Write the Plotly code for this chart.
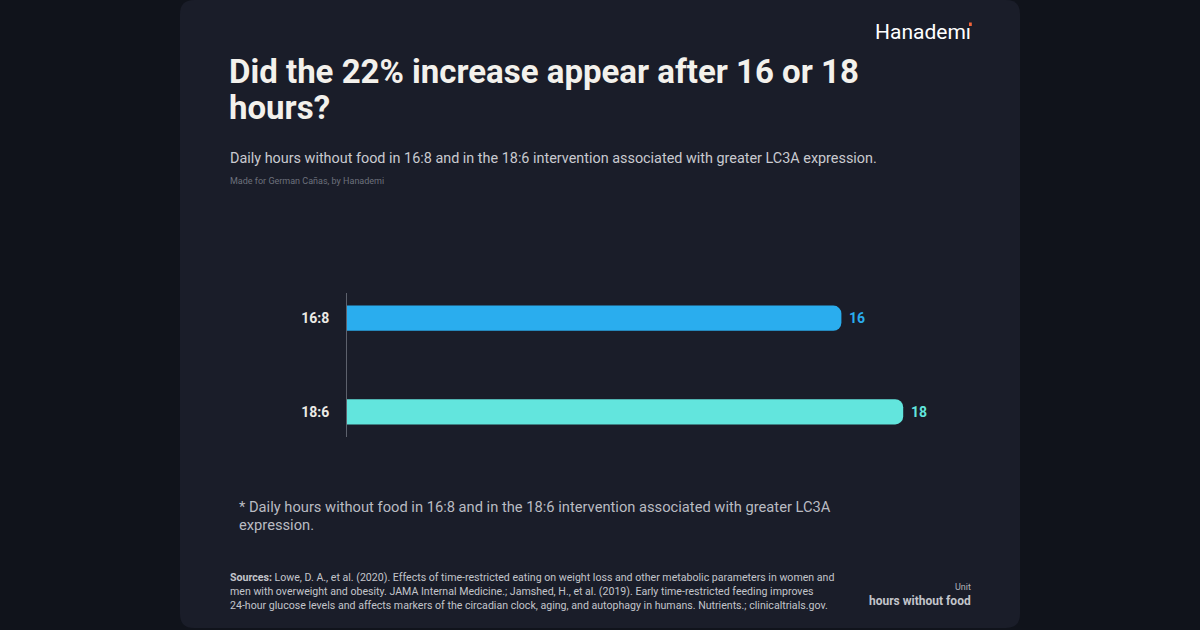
import plotly.graph_objects as go

# ---- data ----
categories = ["16:8", "18:6"]
hours = [16, 18]
bar_colors = ["#2aadee", "#62e5dd"]

title_lines = ["Did the 22% increase appear after 16 or 18", "hours?"]
subtitle_text = "Daily hours without food in 16:8 and in the 18:6 intervention associated with greater LC3A expression."
credit_text = "Made for German Cañas, by Hanademi"
note_lines = ["* Daily hours without food in 16:8 and in the 18:6 intervention associated with greater LC3A",
              "expression."]
sources_text = ("<b>Sources:</b> Lowe, D. A., et al. (2020). Effects of time-restricted eating on weight loss and other metabolic parameters in women and<br>"
                "men with overweight and obesity. JAMA Internal Medicine.; Jamshed, H., et al. (2019). Early time-restricted feeding improves<br>"
                "24-hour glucose levels and affects markers of the circadian clock, aging, and autophagy in humans. Nutrients.; clinicaltrials.gov.")
unit_label = "Unit"
unit_text = "hours without food"

# ---- layout geometry (pixels) ----
W, H = 1200, 630
L, R, T, B = 347, 965, 293, 437

def px(x):
    return (x - L) / (R - L)

def py(y):
    return (B - y) / (B - T)

FONT = "Roboto"
BG_OUT = "#10131b"
CARD = "#1a1d29"

fig = go.Figure()
fig.add_trace(go.Bar(
    x=hours, y=categories, orientation="h",
    marker=dict(color=bar_colors, line=dict(width=0)),
    width=0.27, hoverinfo="skip",
))

annotations = []
for c, v, col in zip(categories, hours, bar_colors):
    annotations.append(dict(x=v, y=c, xref="x", yref="y", text=f"<b>{v}</b>",
                            showarrow=False, xanchor="left", xshift=6,
                            font=dict(family=FONT, size=14, color=col)))

def ann(x, y, text, size, color, xanchor="left", yanchor="middle", align="left", family=FONT):
    annotations.append(dict(x=px(x), y=py(y), xref="paper", yref="paper", text=text,
                            showarrow=False, xanchor=xanchor, yanchor=yanchor, align=align,
                            font=dict(family=family, size=size, color=color)))

ann(227, 71, f"<b>{title_lines[0]}</b>", 33, "#f3f1ec")
ann(227, 107, f"<b>{title_lines[1]}</b>", 33, "#f3f1ec")
ann(228, 158, subtitle_text, 14.4, "#c9cad0")
ann(228, 181, credit_text, 9, "#6d717c")
ann(237, 507, note_lines[0], 14.7, "#b9bbc2")
ann(237, 525, note_lines[1], 14.7, "#b9bbc2")
ann(228, 591, sources_text, 10.6, "#c3c5cb")
ann(973, 587, unit_label, 9, "#b0b3ba", xanchor="right")
ann(973, 601, f"<b>{unit_text}</b>", 12, "#c3c5cb", xanchor="right")
ann(973, 32, "Hanademı", 21, "#ffffff", xanchor="right")

# card with rounded corners
x0, x1, y0, y1, r = 180, 1020, 0, 628, 14
path = (f"M {px(x0+r)},{py(y0)} L {px(x1-r)},{py(y0)} "
        f"Q {px(x1)},{py(y0)} {px(x1)},{py(y0+r)} "
        f"L {px(x1)},{py(y1-r)} Q {px(x1)},{py(y1)} {px(x1-r)},{py(y1)} "
        f"L {px(x0+r)},{py(y1)} Q {px(x0)},{py(y1)} {px(x0)},{py(y1-r)} "
        f"L {px(x0)},{py(y0+r)} Q {px(x0)},{py(y0)} {px(x0+r)},{py(y0)} Z")
shapes = [dict(type="path", path=path, xref="paper", yref="paper",
               fillcolor=CARD, line=dict(width=0), layer="below")]
# orange dot of the logo's i
shapes.append(dict(type="rect", xref="paper", yref="paper",
                   x0=px(969), x1=px(971.8), y0=py(26), y1=py(22.5),
                   fillcolor="#f0643a", line=dict(width=0)))

fig.update_layout(
    width=W, height=H,
    margin=dict(l=L, r=W - R, t=T, b=H - B, pad=0),
    paper_bgcolor=BG_OUT, plot_bgcolor="rgba(0,0,0,0)",
    barcornerradius=8,
    showlegend=False,
    xaxis=dict(range=[0, 20], visible=False, fixedrange=True),
    yaxis=dict(range=[1.27, -0.27], showline=True, linecolor="#5d616c", linewidth=1,
               showgrid=False, zeroline=False, ticks="", ticklabelstandoff=14,
               tickfont=dict(family=FONT, size=14, color="#eceae6", weight="bold"),
               fixedrange=True),
    annotations=annotations,
    shapes=shapes,
)

fig.write_html("out.html", config={"displayModeBar": False},
               post_script="document.body.style.margin='0';document.body.style.background='#10131b';")
